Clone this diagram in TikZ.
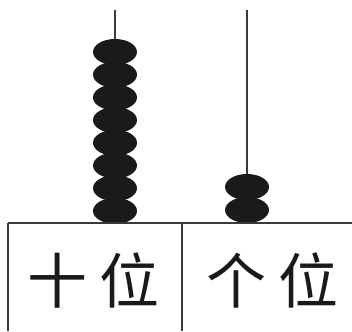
\documentclass[tikz,border=0pt]{standalone}
\usepackage{fontspec}
\newfontfamily\cjk{Noto Sans CJK SC}
\definecolor{ink}{HTML}{1A1A1A}
\definecolor{frame}{HTML}{3A3A3A}
\begin{document}
\begin{tikzpicture}[x=1pt,y=-1pt,
  bead/.style={fill=ink,draw=none},
  rod/.style={draw=frame,line width=1.3pt},
  framel/.style={draw=frame,line width=1.6pt},
  label/.style={font=\cjk\fontsize{60}{60}\selectfont,text=ink,inner sep=0pt}]
\useasboundingbox (0,0) rectangle (352,331);
% rods
\coordinate (lt) at (115,10);
\coordinate (lb) at (115,200);
\coordinate (rt) at (247,10);
\coordinate (rb) at (247,200);
\draw[rod] (lt) -- (lb);
\draw[rod] (rt) -- (rb);
% beads tens
\foreach \i in {0,...,7}{
  \fill[bead] (115,{52+\i*22.7}) ellipse [x radius=22, y radius=13];
}
% beads ones
\foreach \i in {0,1}{
  \fill[bead] (247,{187+\i*23}) ellipse [x radius=22, y radius=13];
}
% frame
\coordinate (tl) at (8,223);
\coordinate (tr) at (352,223);
\coordinate (bl) at (8,331);
\coordinate (tm) at (182,223);
\coordinate (bm) at (182,331);
\draw[framel] (tl) -- (tr);
\draw[framel] (tl) -- (bl);
\draw[framel] (tm) -- (bm);
% labels
\node[label] (ten) at (93,280) {十\hspace{12pt}位};
\node[label] (one) at (272,280) {个\hspace{12pt}位};
\end{tikzpicture}
\end{document}
